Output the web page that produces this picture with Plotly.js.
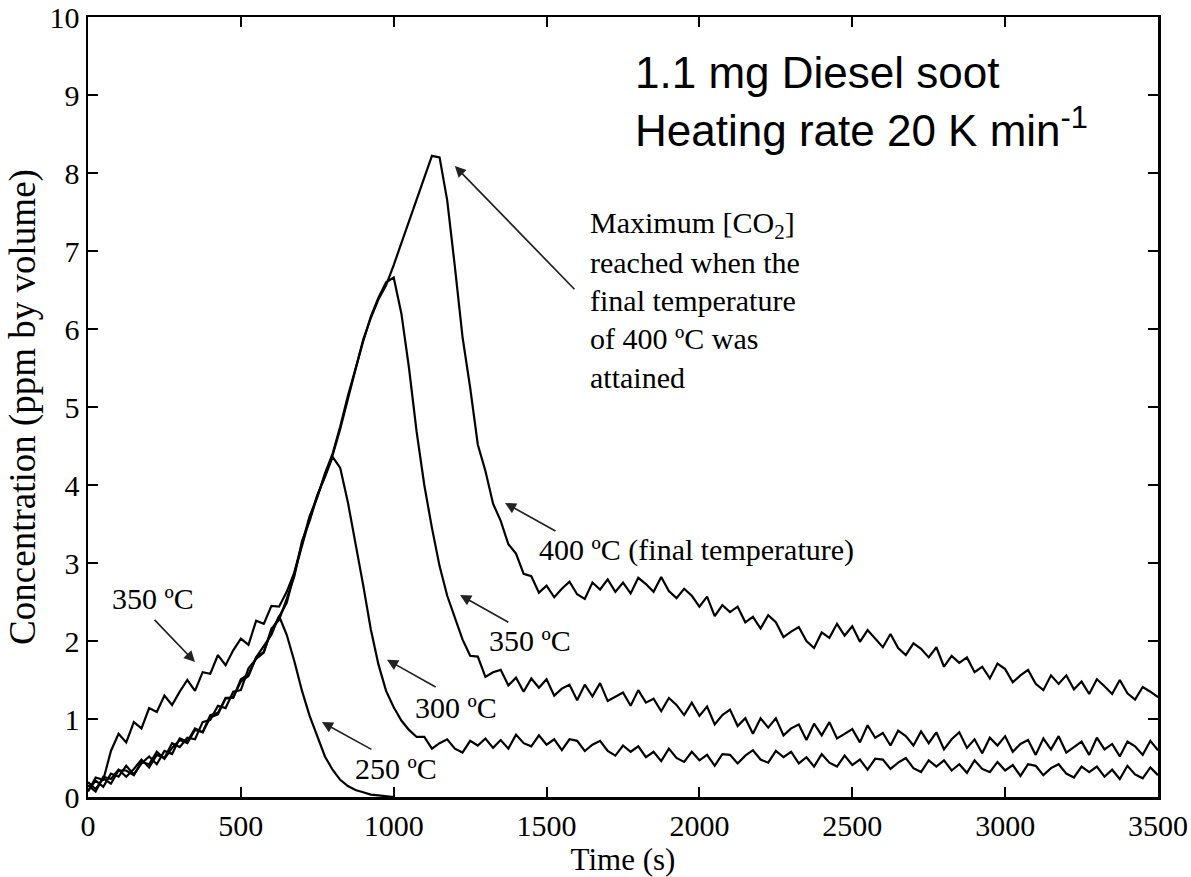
<!DOCTYPE html>
<html>
<head>
<meta charset="utf-8">
<script src="https://cdn.plot.ly/plotly-3.0.1.min.js"></script>
<style>html,body{margin:0;padding:0;background:#fff;}#chart{width:1191px;height:877px;}</style>
</head>
<body>
<div id="chart"></div>
<script>
// Time axis (s)
const timeS = [0,25,50,75,100,125,150,175,200,225,250,275,300,325,350,375,400,425,450,475,
500,525,550,575,600,625,650,675,700,725,750,775,800,825,850,875,900,925,950,975,
1000,1025,1050,1075,1100,1125,1150,1175,1200,1225,1250,1275,1300,1325,1350,1375,1400,1425,1450,1475,
1500,1525,1550,1575,1600,1625,1650,1675,1700,1725,1750,1775,1800,1825,1850,1875,1900,1925,1950,1975,
2000,2025,2050,2075,2100,2125,2150,2175,2200,2225,2250,2275,2300,2325,2350,2375,2400,2425,2450,2475,
2500,2525,2550,2575,2600,2625,2650,2675,2700,2725,2750,2775,2800,2825,2850,2875,2900,2925,2950,2975,
3000,3025,3050,3075,3100,3125,3150,3175,3200,3225,3250,3275,3300,3325,3350,3375,3400,3425,3450,3475,3500];

// CO2 concentration (ppm by volume), final temperature 400 ºC
const conc400 = [
0.15,0.07,0.26,0.23,0.35,0.26,0.36,0.48,0.38,0.54,
0.50,0.69,0.64,0.76,0.74,0.96,0.99,1.17,1.14,1.35,
1.37,1.65,1.77,1.85,2.16,2.27,2.54,2.83,3.28,3.54,
3.86,4.12,4.38,4.72,5.12,5.48,5.86,6.14,6.38,6.56,
6.82,7.10,7.37,7.65,7.95,8.22,8.20,7.65,6.80,5.90,
5.25,4.52,4.18,3.76,3.54,3.24,3.12,2.86,2.83,2.62,
2.71,2.56,2.67,2.76,2.60,2.54,2.75,2.66,2.79,2.63,
2.75,2.61,2.81,2.73,2.63,2.82,2.64,2.55,2.67,2.58,
2.44,2.57,2.32,2.46,2.37,2.44,2.24,2.31,2.16,2.33,
2.24,2.05,2.12,2.18,2.00,1.91,2.11,2.04,2.22,2.07,
2.19,1.99,2.14,2.03,1.92,2.09,1.91,1.82,1.97,1.90,
1.79,1.92,1.67,1.81,1.72,1.79,1.60,1.67,1.52,1.71,
1.64,1.47,1.56,1.63,1.45,1.37,1.56,1.45,1.56,1.38,
1.48,1.32,1.51,1.42,1.32,1.50,1.33,1.25,1.41,1.35,
1.28];

// final temperature 350 ºC
const conc350 = [
0.07,0.25,0.22,0.59,0.81,0.70,0.96,0.88,1.14,1.09,
1.30,1.18,1.35,1.50,1.36,1.60,1.58,1.82,1.69,1.88,
2.03,1.95,2.26,2.22,2.45,2.44,2.63,2.88,3.25,3.60,
3.84,4.15,4.40,4.75,5.14,5.50,5.84,6.16,6.40,6.60,
6.66,6.20,5.50,4.68,4.00,3.45,2.96,2.58,2.30,2.02,
1.81,1.80,1.54,1.60,1.63,1.43,1.53,1.35,1.52,1.40,
1.51,1.30,1.39,1.44,1.24,1.44,1.29,1.46,1.23,1.29,
1.34,1.17,1.37,1.21,1.26,1.10,1.27,1.18,1.05,1.21,
1.04,1.16,0.93,1.05,1.12,0.91,1.01,0.81,1.01,0.89,
1.01,0.79,0.88,0.93,0.73,0.94,0.79,0.96,0.75,0.81,
0.87,0.70,0.92,0.76,0.82,0.66,0.85,0.78,0.66,0.84,
0.69,0.83,0.61,0.74,0.83,0.63,0.74,0.56,0.76,0.66,
0.78,0.58,0.68,0.73,0.54,0.75,0.61,0.78,0.57,0.64,
0.71,0.54,0.76,0.61,0.68,0.52,0.71,0.65,0.54,0.72,
0.60];

// final temperature 300 ºC
const conc300 = [
0.08,0.21,0.13,0.30,0.26,0.40,0.29,0.43,0.52,0.42,
0.59,0.55,0.75,0.71,0.88,0.83,1.02,1.06,1.27,1.27,
1.51,1.57,1.79,1.86,2.13,2.31,2.49,2.87,3.23,3.57,
3.87,4.10,4.36,4.22,3.78,3.26,2.72,2.15,1.70,1.36,
1.15,0.98,0.86,0.77,0.77,0.62,0.69,0.74,0.62,0.57,
0.72,0.66,0.75,0.63,0.73,0.62,0.80,0.69,0.65,0.79,
0.67,0.74,0.60,0.74,0.72,0.59,0.67,0.72,0.59,0.53,
0.66,0.58,0.65,0.51,0.58,0.46,0.62,0.50,0.45,0.58,
0.47,0.54,0.40,0.55,0.54,0.43,0.53,0.60,0.48,0.44,
0.59,0.51,0.58,0.43,0.51,0.39,0.55,0.44,0.39,0.53,
0.41,0.48,0.35,0.49,0.48,0.36,0.44,0.50,0.37,0.32,
0.47,0.39,0.47,0.34,0.42,0.31,0.47,0.36,0.32,0.45,
0.34,0.41,0.27,0.42,0.40,0.28,0.37,0.42,0.30,0.25,
0.39,0.32,0.39,0.26,0.35,0.23,0.40,0.29,0.24,0.38,
0.28];

// final temperature 250 ºC (0 – 1000 s)
const conc250 = [
0.19,0.10,0.24,0.17,0.34,0.34,0.28,0.45,0.42,0.58,
0.49,0.63,0.73,0.69,0.86,0.83,1.05,1.08,1.26,1.28,
1.48,1.55,1.79,1.94,2.08,2.32,2.08,1.74,1.36,1.04,
0.77,0.52,0.35,0.22,0.14,0.09,0.06,0.03,0.02,0.01,
0.00];

const serif = 'Liberation Serif, Times New Roman, serif';
const sans = 'Liberation Sans, Arial, sans-serif';
const lineStyle = {color: '#000', width: 2.2};

const traces = [
  {x: timeS, y: conc400, name: '400 ºC', mode: 'lines', line: lineStyle},
  {x: timeS, y: conc350, name: '350 ºC', mode: 'lines', line: lineStyle},
  {x: timeS, y: conc300, name: '300 ºC', mode: 'lines', line: lineStyle},
  {x: timeS.slice(0, conc250.length), y: conc250, name: '250 ºC', mode: 'lines', line: lineStyle}
];

function arrow(hx, hy, tx, ty) {
  return {x: hx, y: hy, ax: tx, ay: ty, xref: 'x', yref: 'y', axref: 'x', ayref: 'y',
    text: '', showarrow: true, arrowhead: 2, arrowsize: 1.3, arrowwidth: 1.7,
    arrowcolor: '#222', standoff: 0, startstandoff: 0};
}
function label(x, y, text, size, family) {
  return {x: x, y: y, xref: 'x', yref: 'y', text: text, showarrow: false,
    xanchor: 'left', yanchor: 'middle', font: {family: family || serif, size: size || 30, color: '#000'}};
}

const annotations = [
  label(1783, 9.29, '1.1 mg Diesel soot', 44, sans),
  label(1783, 8.58, 'Heating rate 20 K min<sup>-1</sup>', 44, sans),
  label(1635, 7.33, 'Maximum [CO<sub>2</sub>]'),
  label(1635, 6.85, 'reached when the'),
  label(1635, 6.37, 'final temperature'),
  label(1635, 5.88, 'of 400 ºC was'),
  label(1635, 5.38, 'attained'),
  label(1469, 3.17, '400 ºC (final temperature)'),
  label(1305, 2.01, '350 ºC'),
  label(1063, 1.15, '300 ºC'),
  label(867, 0.37, '250 ºC'),
  label(72, 2.55, '350 ºC'),
  arrow(1200, 8.09, 1596, 6.49),
  arrow(1364, 3.77, 1534, 3.40),
  arrow(1217, 2.59, 1380, 2.23),
  arrow(978, 1.76, 1142, 1.40),
  arrow(765, 0.96, 932, 0.60),
  arrow(350, 1.73, 213, 2.29)
];

const axisCommon = {
  ticks: 'inside', ticklen: 10, tickwidth: 2, tickcolor: '#000',
  showline: true, linewidth: 2.5, linecolor: '#000', mirror: 'ticks',
  showgrid: false, zeroline: false,
  tickfont: {family: serif, size: 30, color: '#000'}
};

const layout = {
  width: 1191, height: 877,
  margin: {l: 88, r: 33, t: 17, b: 80},
  paper_bgcolor: '#fff', plot_bgcolor: '#fff',
  showlegend: false,
  xaxis: Object.assign({}, axisCommon, {
    range: [0, 3500], tick0: 0, dtick: 500,
    title: {text: 'Time (s)', font: {family: serif, size: 31, color: '#000'}, standoff: 8}
  }),
  yaxis: Object.assign({}, axisCommon, {
    range: [0, 10], tick0: 0, dtick: 1,
    title: {text: 'Concentration (ppm by volume)', font: {family: serif, size: 37, color: '#000'}, standoff: 3}
  }),
  annotations: annotations
};

Plotly.newPlot('chart', traces, layout, {displayModeBar: false, staticPlot: true});
</script>
</body>
</html>
